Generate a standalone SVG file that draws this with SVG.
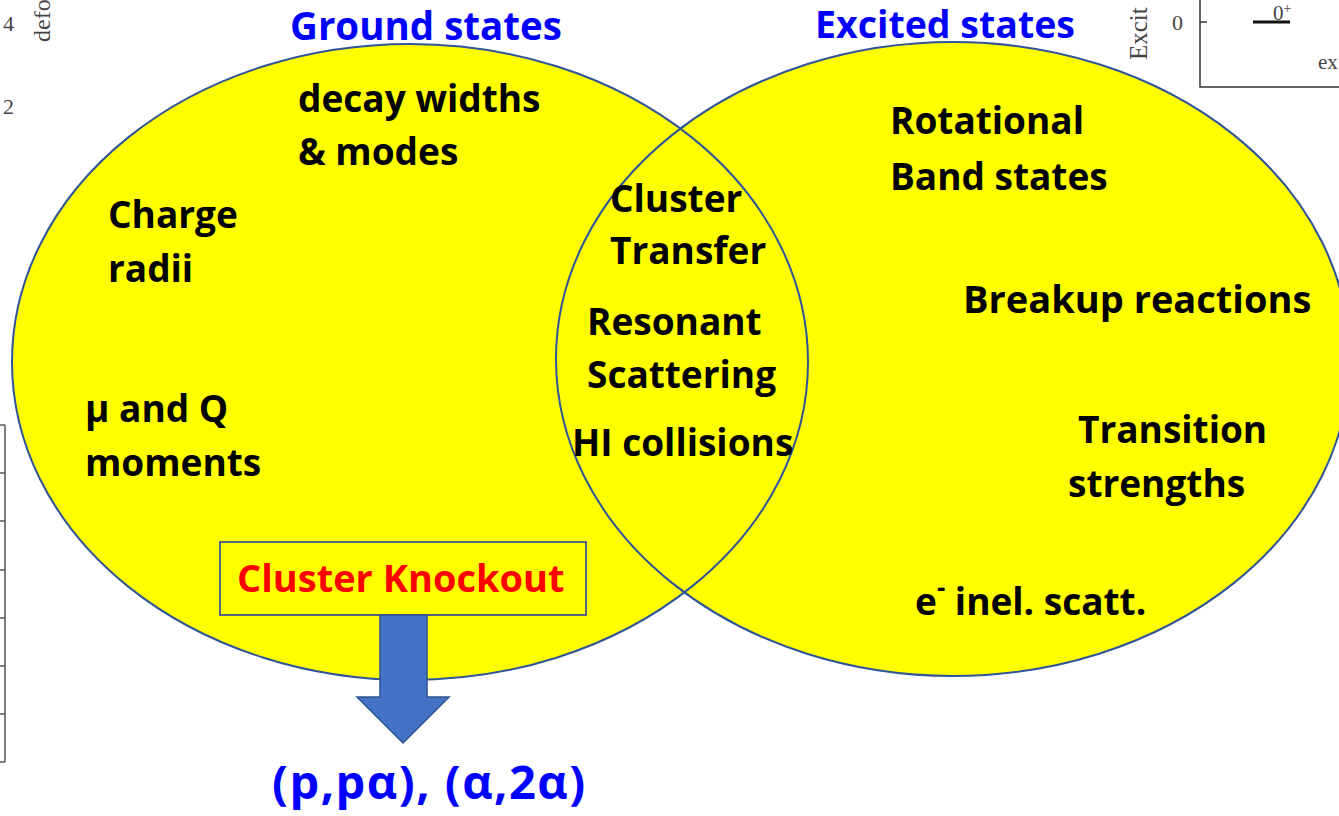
<svg xmlns="http://www.w3.org/2000/svg" width="1339" height="816" viewBox="0 0 1339 816">
  <style>
    .bg { font-family: "Liberation Serif", "DejaVu Serif", serif; fill: #444; }
    .lbl { font-family: "Open Sans", "Liberation Sans", sans-serif; font-weight: 700; font-size: 37px; fill: #000; }
    .head { font-family: "Open Sans", "Liberation Sans", sans-serif; font-weight: 700; font-size: 38px; fill: #0000FF; }
    .knock { font-family: "Open Sans", "Liberation Sans", sans-serif; font-weight: 700; font-size: 38px; fill: #FF0000; }
    .react { font-family: "Open Sans", "Liberation Sans", sans-serif; font-weight: 700; font-size: 47px; letter-spacing: 1.5px; fill: #0000FF; }
    .venn-fill { fill: #FFFF00; stroke: none; }
    .venn-line { fill: none; stroke: #2F5597; stroke-width: 2; }
  </style>

  <rect width="1339" height="816" fill="#ffffff"/>

  <!-- fragments of neighbouring plots -->
  <g id="plot-fragments" stroke="#555" stroke-width="1.5" fill="none">
    <line x1="5" y1="425" x2="5" y2="762"/>
    <line x1="0" y1="425" x2="5" y2="425"/>
    <line x1="0" y1="473" x2="5" y2="473"/>
    <line x1="0" y1="521" x2="5" y2="521"/>
    <line x1="0" y1="570" x2="5" y2="570"/>
    <line x1="0" y1="618" x2="5" y2="618"/>
    <line x1="0" y1="666" x2="5" y2="666"/>
    <line x1="0" y1="714" x2="5" y2="714"/>
    <line x1="0" y1="762" x2="5" y2="762"/>
    <polyline points="1200,0 1200,87 1339,87" stroke="#333"/>
    <line x1="1200" y1="22" x2="1207" y2="22" stroke="#333"/>
    <line x1="1253" y1="22" x2="1290" y2="22" stroke="#111" stroke-width="3"/>
  </g>
  <g id="plot-fragment-text">
    <text class="bg" x="3" y="31" font-size="22">4</text>
    <text class="bg" x="3" y="114" font-size="22">2</text>
    <text class="bg" transform="translate(50,42) rotate(-90)" font-size="24">defo</text>
    <text class="bg" transform="translate(1147,60) rotate(-90)" font-size="25">Excit</text>
    <text class="bg" x="1172" y="30" font-size="22">0</text>
    <text class="bg" x="1273" y="20" font-size="21">0<tspan dy="-7" font-size="14">+</tspan></text>
    <text class="bg" x="1318" y="69" font-size="21">ex</text>
  </g>

  <!-- Venn fills first, then both outlines so the overlap shows each border -->
  <g id="venn">
    <ellipse class="venn-fill" cx="410" cy="362" rx="398" ry="318"/>
    <ellipse class="venn-fill" cx="953" cy="359" rx="397" ry="317"/>
    <ellipse class="venn-line" cx="410" cy="362" rx="398" ry="318"/>
    <ellipse class="venn-line" cx="953" cy="359" rx="397" ry="317" stroke-width="2.6"/>
  </g>

  <g id="ground-states">
    <text class="head" x="290" y="40" style="font-size:38.5px">Ground states</text>
    <text class="lbl" x="298" y="112">decay widths</text>
    <text class="lbl" x="298" y="165">&amp; modes</text>
    <text class="lbl" x="108" y="228">Charge</text>
    <text class="lbl" x="108" y="282">radii</text>
    <text class="lbl" x="85" y="422">μ and Q</text>
    <text class="lbl" x="85" y="476">moments</text>
  </g>

  <g id="overlap">
    <text class="lbl" x="610" y="212">Cluster</text>
    <text class="lbl" x="610" y="264">Transfer</text>
    <text class="lbl" x="587" y="335">Resonant</text>
    <text class="lbl" x="587" y="388">Scattering</text>
    <text class="lbl" x="572" y="456">HI collisions</text>
  </g>

  <g id="excited-states">
    <text class="head" x="815" y="38" style="font-size:37.5px">Excited states</text>
    <text class="lbl" x="890" y="134">Rotational</text>
    <text class="lbl" x="890" y="190">Band states</text>
    <text class="lbl" x="963" y="313" style="font-size:38px">Breakup reactions</text>
    <text class="lbl" x="1078" y="443">Transition</text>
    <text class="lbl" x="1068" y="497">strengths</text>
    <text class="lbl" x="915" y="615">e<tspan dy="-18" style="font-size:26px">-</tspan><tspan dy="18"> inel. scatt.</tspan></text>
  </g>

  <g id="cluster-knockout">
    <rect x="220" y="542" width="366" height="73" fill="#FFFF00" stroke="#2233AA" stroke-width="1.5"/>
    <text class="knock" x="237" y="592">Cluster Knockout</text>
  </g>

  <g id="connectors">
    <polygon points="380,615 427,615 427,697 449,697 403,743 357,697 380,697" fill="#4472C4" stroke="#2F528F" stroke-width="1.5"/>
  </g>

  <g id="reactions">
    <text class="react" x="272" y="799">(p,pα), (α,2α)</text>
  </g>
</svg>
